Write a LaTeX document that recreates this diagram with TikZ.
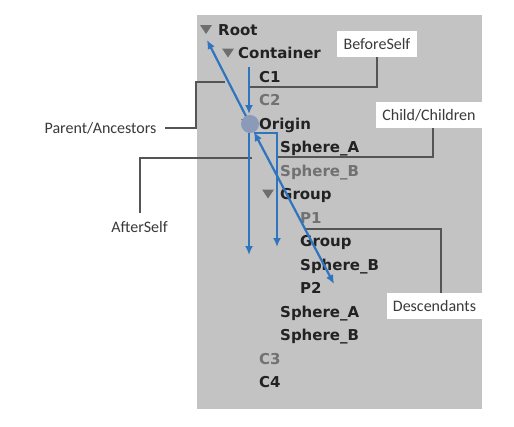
\documentclass[tikz,border=0pt]{standalone}
\usepackage{fontspec}
\newfontfamily\treefont{DejaVu Sans}
\newfontfamily\labelfont{Carlito}
\usetikzlibrary{arrows.meta}
\definecolor{panel}{HTML}{C3C3C3}
\definecolor{arrowblue}{HTML}{2F74BE}
\definecolor{conn}{HTML}{555555}
\definecolor{darktext}{HTML}{222222}
\definecolor{graytext}{HTML}{717171}
\definecolor{tri}{HTML}{6E6E6E}
\definecolor{dot}{HTML}{8A9AB8}
\definecolor{labeltext}{HTML}{3A3A3A}
\begin{document}
\begin{tikzpicture}[x=1pt,y=-1pt,
 item/.style={anchor=base west, inner sep=0pt, font=\treefont\bfseries\fontsize{15}{18}\selectfont, text=darktext},
 dim/.style={item, text=graytext},
 tag/.style={fill=white, inner sep=0pt, font=\labelfont\fontsize{16}{19}\selectfont, text=labeltext, minimum height=26pt},
 plain/.style={inner sep=0pt, font=\labelfont\fontsize{16}{19}\selectfont, text=labeltext},
 bluearrow/.style={draw=arrowblue, line width=2.2pt, -{Latex[length=9pt,width=8pt]}},
 lead/.style={draw=conn, line width=2pt},
 twisty/.style={fill=tri}
]
\useasboundingbox (0,0) rectangle (514,426);
\fill[white] (0,0) rectangle (514,426);
\fill[panel] (197,15) rectangle (482,409);

% tree rows: baseline = 35.5 + 23.47 i
\node[item] (r0)  at (218, 35.5) {Root};
\node[item] (r1)  at (238, 58.97) {Container};
\node[item] (r2)  at (259, 82.44) {C1};
\node[dim]  (r3)  at (259, 105.91) {C2};
\node[item] (r4)  at (259, 129.38) {Origin};
\node[item] (r5)  at (280, 152.85) {Sphere\_A};
\node[dim]  (r6)  at (280, 176.32) {Sphere\_B};
\node[item] (r7)  at (280, 199.79) {Group};
\node[dim]  (r8)  at (300, 223.26) {P1};
\node[item] (r9)  at (300, 246.73) {Group};
\node[item] (r10) at (300, 270.2) {Sphere\_B};
\node[item] (r11) at (300, 293.67) {P2};
\node[item] (r12) at (280, 317.14) {Sphere\_A};
\node[item] (r13) at (280, 340.61) {Sphere\_B};
\node[dim]  (r14) at (259, 364.08) {C3};
\node[item] (r15) at (259, 387.55) {C4};

% fold triangles
\fill[twisty] (200,25) -- (212,25) -- (206,34) -- cycle;
\fill[twisty] (222,48.5) -- (234,48.5) -- (228,57.5) -- cycle;
\fill[twisty] (241,119) -- (253,119) -- (247,128) -- cycle;
\fill[twisty] (262,189.5) -- (274,189.5) -- (268,198.5) -- cycle;

% labels
\node[tag, minimum width=80pt] (before) at (377,44) {BeforeSelf};
\node[tag, minimum width=106pt] (child) at (429,115) {Child/Children};
\node[tag, minimum width=95pt] (desc) at (434.5,306) {Descendants};
\node[plain] (parent) at (100.5,128) {Parent/Ancestors};
\node[plain] (after) at (139.5,227) {AfterSelf};

% leader end points
\coordinate (bEnd) at (250,87);
\coordinate (cEnd) at (277,157);
\coordinate (dEnd) at (305,229);
\coordinate (pA) at (165,128);
\coordinate (pEnd) at (225,82);
\coordinate (aEnd) at (252,158);

% leaders
\draw[lead] (before.south) |- (bEnd);
\draw[lead] (child.south -| 433,0) |- (cEnd);
\draw[lead] (desc.north -| 441,0) |- (dEnd);
\draw[lead] (pA) -| (196,82) -- (pEnd);
\draw[lead] (140,213) |- (aEnd);

% origin marker and blue arrows
\coordinate (ori) at (250,124);
\coordinate (rootTip) at (207,40);
\draw[bluearrow] (ori) -- (rootTip);
\node[circle, fill=dot, minimum size=18pt, inner sep=0pt] (dotn) at (ori) {};
\coordinate (bStart) at (249,67);
\coordinate (bTip) at (249,114);
\draw[bluearrow] (bStart) -- (bTip);
\coordinate (aStart) at (249,133);
\coordinate (aTip) at (249,255);
\draw[bluearrow] (aStart) -- (aTip);
\coordinate (cStart) at (254,133);
\coordinate (cTip) at (277,247);
\draw[bluearrow] (cStart) -| (cTip);
\coordinate (dStart) at (254,132);
\coordinate (dTip) at (334,284);
\draw[bluearrow, {Latex[length=9pt,width=8pt]}-{Latex[length=9pt,width=8pt]}] (dStart) -- (dTip);
\end{tikzpicture}
\end{document}
